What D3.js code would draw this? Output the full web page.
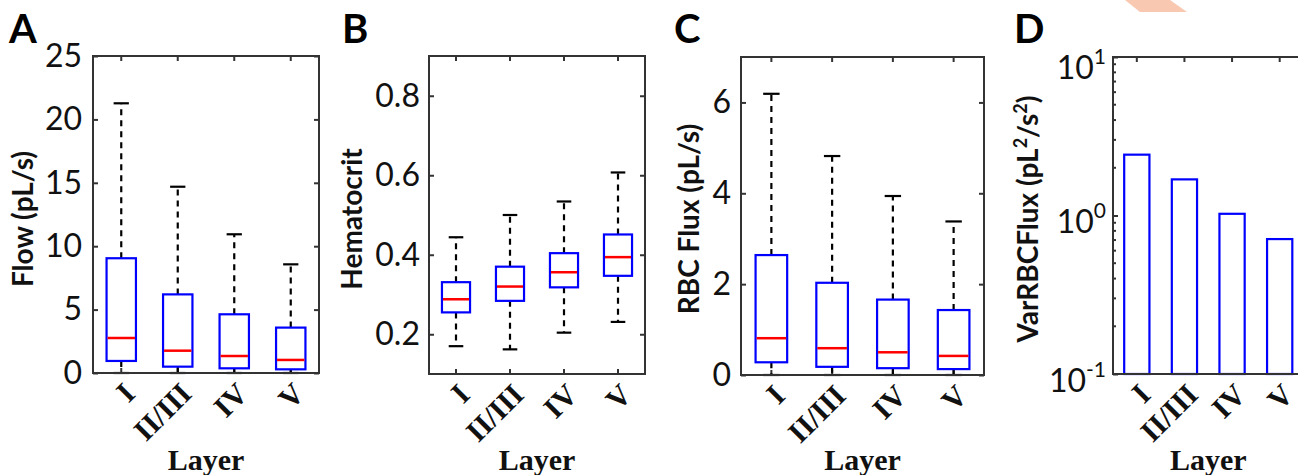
<!DOCTYPE html>
<html>
<head>
<meta charset="utf-8">
<script src="https://cdn.jsdelivr.net/npm/d3@7"></script>
<style>
  html, body { margin: 0; padding: 0; background: #fff; overflow: hidden; }
  svg { display: block; }
</style>
</head>
<body>
<svg id="fig" width="1298" height="475"></svg>
<script>
// Cortical layers shown on every panel
const layers = ["I", "II/III", "IV", "V"];

// Box summaries per layer: [lower whisker, Q1, median, Q3, upper whisker]
const flowSummary = [
  [0, 0.95, 2.76, 9.05, 21.27],
  [0, 0.50, 1.76, 6.20, 14.69],
  [0, 0.37, 1.34, 4.63, 10.94],
  [0, 0.29, 1.03, 3.58, 8.57]
];
const hematocritSummary = [
  [0.170, 0.255, 0.288, 0.331, 0.444],
  [0.162, 0.284, 0.320, 0.370, 0.500],
  [0.204, 0.318, 0.356, 0.404, 0.534],
  [0.231, 0.347, 0.394, 0.451, 0.607]
];
const rbcFluxSummary = [
  [0, 0.28, 0.81, 2.64, 6.19],
  [0, 0.18, 0.59, 2.03, 4.82],
  [0, 0.15, 0.50, 1.66, 3.94],
  [0, 0.13, 0.42, 1.43, 3.38]
];
// Variance of RBC flux per layer (pL^2/s^2)
const rbcFluxVariance = [2.42, 1.69, 1.025, 0.71];

// Tick values
const flowTicks = [0, 5, 10, 15, 20, 25];
const hematocritTicks = [0.2, 0.4, 0.6, 0.8];
const rbcFluxTicks = [0, 2, 4, 6];
const varianceTicks = [0.1, 1, 10];

const svg = d3.select("#fig");
const sansFont = "Lato, 'Open Sans', sans-serif";
const serifFont = "'Liberation Serif', 'Times New Roman', serif";
const frameColor = "#333";
const boxBlue = "#0000ff";
const medianRed = "#ff0000";

// small decorative mark at the top edge
svg.append("path")
  .attr("d", "M1125,0 L1170,0 L1187,12 L1140,12 Z")
  .attr("fill", "#f9c8b0");

function drawPanel(cfg) {
  const g = svg.append("g");
  const x = d3.scaleBand().domain(layers).range([cfg.left, cfg.right]).paddingInner(0).paddingOuter(0);
  const y = cfg.log
    ? d3.scaleLog().domain(cfg.domain).range([cfg.bottom, cfg.top])
    : d3.scaleLinear().domain(cfg.domain).range([cfg.bottom, cfg.top]);
  const cx = d => x(d) + x.bandwidth() / 2;

  // left axis with labels, inward ticks
  const leftAxis = g.append("g")
    .attr("transform", `translate(${cfg.left},0)`)
    .call(d3.axisLeft(y).tickValues(cfg.ticks).tickSize(-5).tickPadding(cfg.tickGap)
      .tickFormat(cfg.log ? () => "" : cfg.format));
  leftAxis.select(".domain").remove();
  leftAxis.attr("font-family", sansFont).attr("font-size", 32);
  leftAxis.selectAll("line").attr("stroke", frameColor).attr("stroke-width", 2);
  leftAxis.selectAll("text").attr("fill", "#111");

  if (cfg.log) {
    // powers of ten with superscript exponents
    leftAxis.selectAll(".tick text").each(function(d) {
      const t = d3.select(this);
      const exp = Math.round(Math.log10(d));
      const yy = Math.max(4, 65 - y(d));
      t.attr("dy", null).attr("y", yy).attr("dominant-baseline", "central");
      t.append("tspan").text("10");
      t.append("tspan").text(String(exp))
        .attr("font-size", 21).attr("dy", -11);
    });
    // minor ticks on the log axis
    const minor = y.ticks().filter(v => !cfg.ticks.some(t => Math.abs(t - v) < 1e-9));
    g.selectAll(".minor").data(minor).join("line")
      .attr("x1", cfg.left).attr("x2", cfg.left + 3)
      .attr("y1", d => y(d)).attr("y2", d => y(d))
      .attr("stroke", frameColor).attr("stroke-width", 2);
  }

  // right axis: ticks only
  if (!cfg.log) {
    const rightAxis = g.append("g")
      .attr("transform", `translate(${cfg.right},0)`)
      .call(d3.axisRight(y).tickValues(cfg.ticks).tickSize(-5).tickFormat(() => ""));
    rightAxis.select(".domain").remove();
    rightAxis.selectAll("line").attr("stroke", frameColor).attr("stroke-width", 2);
  }

  // top axis: ticks only
  const topAxis = g.append("g")
    .attr("transform", `translate(0,${cfg.top})`)
    .call(d3.axisTop(x).tickSize(-5).tickFormat(() => ""));
  topAxis.select(".domain").remove();
  topAxis.selectAll("line").attr("stroke", frameColor).attr("stroke-width", 2);

  // bottom axis with rotated layer labels
  const bottomAxis = g.append("g")
    .attr("transform", `translate(0,${cfg.bottom})`)
    .call(d3.axisBottom(x).tickSize(-5));
  bottomAxis.select(".domain").remove();
  bottomAxis.attr("font-family", serifFont).attr("font-size", 30).attr("font-weight", "bold");
  bottomAxis.selectAll("line").attr("stroke", frameColor).attr("stroke-width", 2);
  bottomAxis.selectAll("text")
    .attr("x", 0).attr("y", 0).attr("dy", "0.35em")
    .attr("text-anchor", "end")
    .attr("fill", "#111")
    .attr("transform", "translate(8,15) rotate(-45)");

  // data marks
  if (cfg.summary) {
    const bw = x.bandwidth() * 0.52;
    const capW = x.bandwidth() * 0.27;
    const rows = layers.map((k, i) => ({ k, s: cfg.summary[i] }));
    const grp = g.selectAll(".box").data(rows).join("g");
    // whiskers
    grp.append("line")
      .attr("x1", d => cx(d.k)).attr("x2", d => cx(d.k))
      .attr("y1", d => y(d.s[3])).attr("y2", d => y(d.s[4]))
      .attr("stroke", "#000").attr("stroke-width", 2.2).attr("stroke-dasharray", "6,5");
    grp.append("line")
      .attr("x1", d => cx(d.k)).attr("x2", d => cx(d.k))
      .attr("y1", d => y(d.s[1])).attr("y2", d => y(d.s[0]))
      .attr("stroke", "#000").attr("stroke-width", 2.2).attr("stroke-dasharray", "6,5");
    // whisker caps
    [0, 4].forEach(j => {
      grp.append("line")
        .attr("x1", d => cx(d.k) - capW / 2).attr("x2", d => cx(d.k) + capW / 2)
        .attr("y1", d => y(d.s[j])).attr("y2", d => y(d.s[j]))
        .attr("stroke", "#000").attr("stroke-width", 2.2);
    });
    // boxes
    grp.append("rect")
      .attr("x", d => cx(d.k) - bw / 2).attr("width", bw)
      .attr("y", d => y(d.s[3])).attr("height", d => y(d.s[1]) - y(d.s[3]))
      .attr("fill", "#fff").attr("stroke", boxBlue).attr("stroke-width", 2.2);
    // medians
    grp.append("line")
      .attr("x1", d => cx(d.k) - bw / 2 + 1).attr("x2", d => cx(d.k) + bw / 2 - 1)
      .attr("y1", d => y(d.s[2])).attr("y2", d => y(d.s[2]))
      .attr("stroke", medianRed).attr("stroke-width", 2.5);
  }
  if (cfg.bars) {
    const bw = x.bandwidth() * 0.53;
    g.selectAll(".bar").data(layers.map((k, i) => ({ k, v: cfg.bars[i] }))).join("rect")
      .attr("x", d => cx(d.k) - bw / 2).attr("width", bw)
      .attr("y", d => y(d.v)).attr("height", d => y(cfg.domain[0]) - y(d.v))
      .attr("fill", "#fff").attr("stroke", boxBlue).attr("stroke-width", 2.2);
  }

  // frame
  g.append("rect")
    .attr("x", cfg.left).attr("y", cfg.top)
    .attr("width", cfg.right - cfg.left).attr("height", cfg.bottom - cfg.top)
    .attr("fill", "none").attr("stroke", frameColor).attr("stroke-width", 2);

  // axis titles
  const yl = g.append("text")
    .attr("transform", `translate(${cfg.ylabelX},219) rotate(-90)`)
    .attr("text-anchor", "middle")
    .attr("font-family", sansFont).attr("font-weight", "bold").attr("font-size", 28)
    .attr("fill", "#111");
  cfg.ylabel.forEach(part => {
    const ts = yl.append("tspan").text(part.t);
    if (part.sup) ts.attr("font-size", 18).attr("baseline-shift", "super");
  });

  g.append("text")
    .attr("x", (cfg.left + cfg.right) / 2).attr("y", 470)
    .attr("text-anchor", "middle")
    .attr("font-family", serifFont).attr("font-weight", "bold").attr("font-size", 30)
    .attr("fill", "#111")
    .text("Layer");

  // panel letter
  g.append("text")
    .attr("x", cfg.letterX).attr("y", 43)
    .attr("font-family", sansFont).attr("font-weight", "bold").attr("font-size", 40)
    .attr("fill", "#000")
    .text(cfg.letter);
}

drawPanel({
  letter: "A", letterX: 9,
  left: 93, right: 319, top: 56, bottom: 373,
  domain: [0, 25], ticks: flowTicks, format: d3.format("d"), tickGap: 11,
  summary: flowSummary,
  ylabel: [{ t: "Flow (pL/s)" }], ylabelX: 33
});

drawPanel({
  letter: "B", letterX: 342,
  left: 429, right: 645, top: 56, bottom: 374,
  domain: [0.1, 0.9], ticks: hematocritTicks, format: d3.format(".1f"), tickGap: 9,
  summary: hematocritSummary,
  ylabel: [{ t: "Hematocrit" }], ylabelX: 362
});

drawPanel({
  letter: "C", letterX: 674,
  left: 741, right: 984, top: 57, bottom: 375,
  domain: [0, 7], ticks: rbcFluxTicks, format: d3.format("d"), tickGap: 10,
  summary: rbcFluxSummary,
  ylabel: [{ t: "RBC Flux (pL/s)" }], ylabelX: 699
});

drawPanel({
  letter: "D", letterX: 1014,
  left: 1113, right: 1303.5, top: 57, bottom: 374,
  domain: [0.1, 10], ticks: varianceTicks, tickGap: 7, log: true,
  bars: rbcFluxVariance,
  ylabel: [{ t: "VarRBCFlux (pL" }, { t: "2", sup: true }, { t: "/s" }, { t: "2", sup: true }, { t: ")" }],
  ylabelX: 1038
});
</script>
</body>
</html>
